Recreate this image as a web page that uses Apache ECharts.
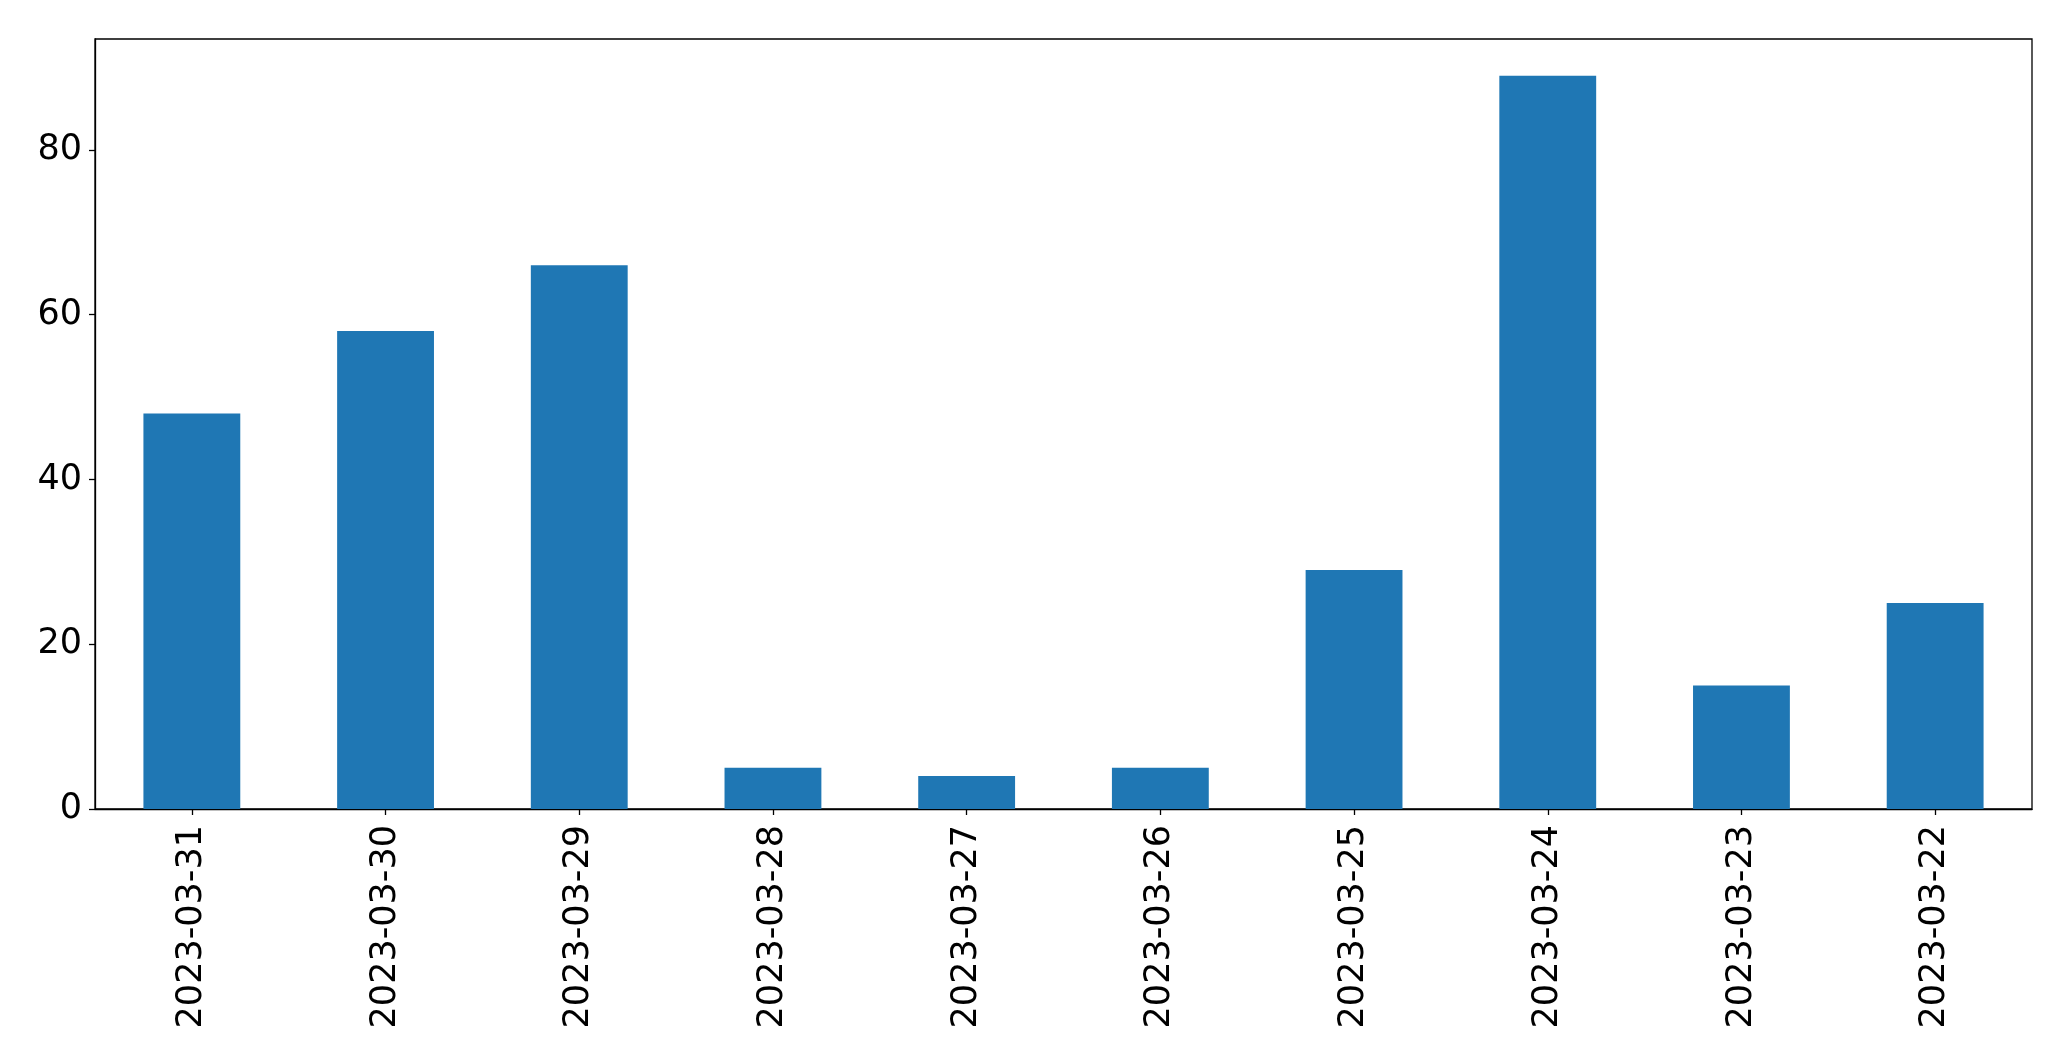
<!DOCTYPE html>
<html>
<head>
<meta charset="utf-8">
<script src="https://cdn.jsdelivr.net/npm/echarts@6/dist/echarts.min.js"></script>
<style>
html,body{margin:0;padding:0;background:#fff;}
#chart{width:2071px;height:1061px;}
</style>
</head>
<body>
<div id="chart"></div>
<script>
const categories = ['2023-03-31','2023-03-30','2023-03-29','2023-03-28','2023-03-27','2023-03-26','2023-03-25','2023-03-24','2023-03-23','2023-03-22'];
const values = [48, 58, 66, 5, 4, 5, 29, 89, 15, 25];
const yTicks = [0, 20, 40, 60, 80];

const chart = echarts.init(document.getElementById('chart'), null, {renderer: 'canvas'});
const font = 'DejaVu Sans';
chart.setOption({
  animation: false,
  backgroundColor: '#fff',
  grid: {left: 95, right: 39, top: 39, bottom: 252, show: true, borderColor: '#000', borderWidth: 1.3, backgroundColor: 'transparent'},
  xAxis: {
    type: 'category',
    data: categories,
    boundaryGap: true,
    axisLine: {show: true, lineStyle: {color: '#000', width: 1.3}},
    axisTick: {show: true, alignWithLabel: true, length: 6, lineStyle: {color: '#000', width: 1.3}},
    axisLabel: {rotate: 90, color: '#000', fontSize: 35, fontFamily: font, margin: 16, interval: 0},
    splitLine: {show: false}
  },
  yAxis: {
    type: 'value',
    min: 0,
    max: 93.45,
    interval: 20,
    axisLine: {show: true, lineStyle: {color: '#000', width: 1.3}},
    axisTick: {show: true, length: 6, lineStyle: {color: '#000', width: 1.3}, customValues: yTicks},
    axisLabel: {color: '#000', fontSize: 35, fontFamily: font, margin: 13, customValues: yTicks},
    splitLine: {show: false}
  },
  series: [{
    type: 'bar',
    data: values,
    barWidth: '50%',
    itemStyle: {color: '#1f77b4'}
  }]
});
</script>
</body>
</html>
